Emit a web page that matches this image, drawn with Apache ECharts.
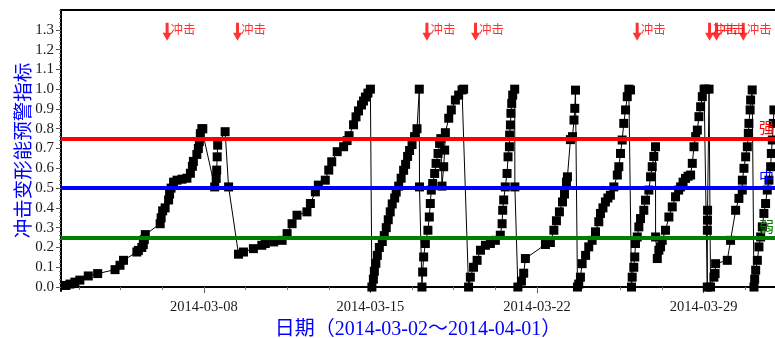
<!DOCTYPE html>
<html>
<head>
<meta charset="utf-8">
<style>
  html, body { margin: 0; padding: 0; overflow: hidden; background: #fff; }
  #chart { width: 775px; height: 338px; }
</style>
</head>
<body>
<div id="chart"></div>
<script src="https://cdn.jsdelivr.net/npm/echarts@6/dist/echarts.min.js"></script>
<script>
    // 时间: 从 2014-03-02 00:00 起算的小时数
    var hours = [
        5, 9, 14, 19, 27.5, 37, 54.5, 59.5, 63, 76.5, 78, 81.5, 83, 84, 85,
        100, 101, 102.5, 105, 108.5, 109.5, 111, 113.5, 117, 122, 127, 130.5, 132.5, 133.5, 137, 138.5, 139.5, 140.5, 142, 143,
        155, 156.5, 157, 157.5, 158, 165.5, 169, 179,
        184, 194, 202.5, 206, 214.5, 223, 228, 233, 238, 248, 251.5, 256.5, 259.5, 266.5, 270, 273, 278.5, 285, 288.5, 290.5,
        295, 297.5, 300, 303, 305, 307, 309.5, 312, 313.5,
        315, 316, 317.5, 319, 321, 324, 326, 328, 330, 332, 334, 336.5, 338, 340.5, 343, 345.5, 347.5, 349.5, 351.5, 354, 356.5, 359,
        361.3, 361.5, 364,
        364.7, 365.7, 367.4, 370, 371.4, 372.4, 373.4, 374.8, 376.8, 378.2, 380.2, 381.8, 383, 384.2, 385.9, 386.9, 387.6,
        391, 393.6, 397.7, 401, 404.4, 406, 411,
        412.8, 416, 419.6, 423, 428, 433, 438, 443, 444.8, 445.4, 446.4, 448, 449.8, 450.8, 452.2, 452.4, 453.2, 453.7, 454.5, 455.5, 457.5, 457.7, 460.7,
        464.3, 466.6, 468.3, 488.5, 493.5, 497, 499.6, 502.6, 505.7, 507.7, 509.7, 510.7, 513.7, 515.8, 517.3, 518.1, 518.8, 520.8,
        522.1, 523.8, 525.5, 529, 532.2, 535.6, 539, 542.3, 544, 546.5, 549, 551.5, 554, 557.5, 561, 562.5, 564.2, 565.9, 567.5, 569.3, 571, 572.6, 574.3, 575.3,
        576, 577.6, 578.6, 579.3, 581.1, 582.7, 584.4, 587.7, 589.4, 592.8, 594.5, 596.2, 597.8, 599.5, 599.6,
        601.3, 602.9, 604.6, 606.3, 609.6, 613, 616.4, 619.7, 622.8, 624.8, 627.3, 629.8, 632.3, 634.9, 636.6, 638.3, 640, 641.7, 643.3, 645, 646.7, 648.5, 650,
        651.7, 651.8, 651.9, 652, 653.5, 655,
        658.4, 659.6, 660.1, 671.9, 675.2, 680.3, 683.6, 687, 687.1, 688.7, 690.4, 692.1, 693.1, 693.7, 694.9, 695.4, 697, 698.8,
        699.5, 700.5, 702.2, 703.8, 705.5, 707.2, 708.8, 710.5, 712.2, 713.9, 715.6, 716.3, 717.3, 718.3, 718.9
    ];
    var values = [
        0.008, 0.015, 0.025, 0.035, 0.056, 0.068, 0.088, 0.11, 0.135, 0.177, 0.185, 0.20, 0.215, 0.24, 0.265,
        0.32, 0.35, 0.385, 0.40, 0.44, 0.47, 0.50, 0.53, 0.54, 0.545, 0.55, 0.575, 0.61, 0.635, 0.67, 0.70, 0.735, 0.775, 0.80, 0.80,
        0.506, 0.549, 0.591, 0.658, 0.717, 0.785, 0.506, 0.166,
        0.177, 0.194, 0.211, 0.22, 0.228, 0.236, 0.27, 0.32, 0.363, 0.38, 0.422, 0.481, 0.515, 0.54, 0.591, 0.633, 0.684, 0.709, 0.74, 0.765,
        0.82, 0.86, 0.89, 0.92, 0.94, 0.96, 0.98, 1.0, 0.0,
        0.04, 0.08, 0.12, 0.16, 0.20, 0.23, 0.26, 0.30, 0.34, 0.38, 0.42, 0.45, 0.48, 0.51, 0.55, 0.59, 0.62, 0.66, 0.69, 0.72, 0.76, 0.80,
        1.0, 0.506, 0.0,
        0.076, 0.152, 0.22, 0.287, 0.354, 0.422, 0.49, 0.523, 0.574, 0.625, 0.675, 0.726, 0.75, 0.51, 0.608, 0.692, 0.78,
        0.853, 0.895, 0.945, 0.97, 0.996, 1.0, 0.0,
        0.05, 0.10, 0.135, 0.186, 0.211, 0.22, 0.236, 0.262, 0.32, 0.388, 0.44, 0.506, 0.574, 0.658, 0.709, 0.768, 0.819, 0.878, 0.928, 0.97, 1.0, 0.506, 0.0,
        0.03, 0.07, 0.144, 0.215, 0.225, 0.287, 0.335, 0.38, 0.43, 0.47, 0.53, 0.557, 0.745, 0.76, 0.844, 0.903, 0.995, 0.0,
        0.015, 0.05, 0.118, 0.16, 0.203, 0.236, 0.279, 0.33, 0.372, 0.40, 0.43, 0.45, 0.464, 0.506, 0.566, 0.608, 0.675, 0.743, 0.827, 0.895, 0.962, 1.0, 0.996, 0.0,
        0.05, 0.10, 0.152, 0.22, 0.253, 0.304, 0.346, 0.388, 0.439, 0.49, 0.557, 0.608, 0.66, 0.709, 0.253,
        0.144, 0.186, 0.203, 0.236, 0.287, 0.354, 0.405, 0.456, 0.49, 0.506, 0.53, 0.549, 0.56, 0.566, 0.625, 0.709, 0.76, 0.793, 0.861, 0.911, 0.962, 1.0, 1.0,
        0.0, 0.287, 0.338, 0.388, 1.0, 0.0,
        0.05, 0.068, 0.118, 0.135, 0.236, 0.388, 0.448, 0.49, 0.54, 0.6, 0.658, 0.709, 0.777, 0.827, 0.895, 0.945, 0.996, 0.0,
        0.04, 0.085, 0.135, 0.203, 0.253, 0.304, 0.372, 0.422, 0.49, 0.54, 0.608, 0.675, 0.743, 0.827, 0.895
    ];

    // 冲击事件 (小时)
    var shockHours = [107, 178, 369, 418, 581, 654, 661, 688];

    // 预警等级线
    var levelValues = [0.75, 0.5, 0.25];
    var levelNames = ['强', '中', '弱'];
    var levelColors = ['#ff0000', '#0000ff', '#008000'];

    // 坐标轴刻度
    var dateTicks = ['2014-03-08', '2014-03-15', '2014-03-22', '2014-03-29'];
    var yTicks = [0, 0.1, 0.2, 0.3, 0.4, 0.5, 0.6, 0.7, 0.8, 0.9, 1.0, 1.1, 1.2, 1.3];

    var HOUR = 3600 * 1000;
    var t0 = Date.UTC(2014, 2, 2);
    var xMin = t0;
    var xMax = Date.UTC(2014, 3, 1);
    var yMin = -0.02, yMax = 1.4;

    function toTime(h) { return t0 + h * HOUR; }
    function parseDay(s) {
        var p = s.split('-');
        return Date.UTC(+p[0], +p[1] - 1, +p[2]);
    }
    function pad(n) { return (n < 10 ? '0' : '') + n; }
    function fmtDate(t) {
        var d = new Date(t);
        return d.getUTCFullYear() + '-' + pad(d.getUTCMonth() + 1) + '-' + pad(d.getUTCDate());
    }

    var majorTimes = dateTicks.map(parseDay);
    var step = 1.75 * 24 * HOUR;
    var xMinor = [];
    for (var t = majorTimes[0] - 4 * step; t <= xMax; t += step) {
        if (t >= xMin) xMinor.push(t);
    }
    var yMinor = [];
    for (var i = 0; i <= 70; i++) yMinor.push(+(i * 0.02).toFixed(2));

    var lineData = hours.map(function (h, i) { return [toTime(h), values[i]]; });
    var shockData = shockHours.map(function (h) { return [toTime(h), 1.29]; });

    var myChart = echarts.init(document.getElementById('chart'));

    var tickFont = { fontFamily: 'Liberation Serif', color: '#1a1a1a' };

    var option = {
        animation: false,
        backgroundColor: '#fff',
        grid: { left: 61, right: 0, top: 10, bottom: 47, outerBoundsMode: 'none', containLabel: false },
        xAxis: [
            {
                type: 'value', min: xMin, max: xMax, position: 'bottom',
                name: '日期（2014-03-02～2014-04-01）',
                nameLocation: 'middle', nameGap: 27,
                nameTextStyle: { color: '#0000ff', fontSize: 20, fontFamily: 'Liberation Serif, Noto Sans CJK SC' },
                axisLine: { show: true, lineStyle: { color: '#000', width: 2 } },
                axisTick: { show: true, customValues: majorTimes, length: 6, lineStyle: { color: '#555' } },
                axisLabel: {
                    customValues: majorTimes, margin: 9, fontSize: 14.5,
                    fontFamily: tickFont.fontFamily, color: tickFont.color,
                    formatter: fmtDate
                },
                splitLine: { show: false }
            },
            {
                type: 'value', min: xMin, max: xMax, position: 'bottom',
                axisLine: { show: false },
                axisTick: { show: true, customValues: xMinor, length: 3, lineStyle: { color: '#777' } },
                axisLabel: { show: false },
                splitLine: { show: false }
            },
            {
                type: 'value', min: xMin, max: xMax, position: 'top',
                axisLine: { show: true, lineStyle: { color: '#000', width: 2 } },
                axisTick: { show: false },
                axisLabel: { show: false },
                splitLine: { show: false }
            }
        ],
        yAxis: [
            {
                type: 'value', min: yMin, max: yMax, position: 'left',
                name: '冲击变形能预警指标',
                nameLocation: 'middle', nameGap: 29, nameMoveOverlap: false,
                nameTextStyle: { color: '#0000ff', fontSize: 19.5, fontFamily: 'Noto Sans CJK SC' },
                axisLine: { show: true, lineStyle: { color: '#000', width: 2 } },
                axisTick: { show: true, customValues: yTicks, length: 5, lineStyle: { color: '#555' } },
                axisLabel: {
                    customValues: yTicks, margin: 7, fontSize: 15,
                    fontFamily: tickFont.fontFamily, color: tickFont.color,
                    formatter: function (v) { return v.toFixed(1); }
                },
                splitLine: { show: false }
            },
            {
                type: 'value', min: yMin, max: yMax, position: 'left',
                axisLine: { show: false },
                axisTick: { show: true, customValues: yMinor, length: 2, lineStyle: { color: '#777' } },
                axisLabel: { show: false },
                splitLine: { show: false }
            }
        ],
        series: [
            {
                name: '冲击变形能预警指标',
                type: 'line',
                data: lineData,
                showAllSymbol: true,
                symbol: 'rect',
                symbolSize: 9,
                lineStyle: { color: '#000', width: 1 },
                itemStyle: { color: '#000' },
                z: 2
            },
            {
                name: '等级',
                type: 'line',
                data: [],
                z: 5,
                markLine: {
                    symbol: 'none',
                    silent: true,
                    data: levelValues.map(function (v, i) {
                        return {
                            yAxis: v,
                            lineStyle: { color: levelColors[i], width: 4, type: 'solid' },
                            label: {
                                show: true, position: 'insideEndTop', formatter: levelNames[i],
                                color: levelColors[i], fontSize: 15, distance: [1, 4],
                                fontFamily: 'Noto Sans CJK SC'
                            }
                        };
                    })
                }
            },
            {
                name: '冲击',
                type: 'scatter',
                data: shockData,
                symbol: 'path://M3,0 L6,0 L6,10 L9,10 L4.5,18 L0,10 L3,10 Z',
                symbolSize: [9, 18],
                itemStyle: { color: '#ff0000' },
                label: {
                    show: true, position: 'right', distance: -1, offset: [0, -3],
                    formatter: '冲击', color: '#ff0000', fontSize: 12.5,
                    fontFamily: 'Noto Sans CJK SC'
                },
                z: 6
            }
        ]
    };

    myChart.setOption(option);
</script>
</body>
</html>
